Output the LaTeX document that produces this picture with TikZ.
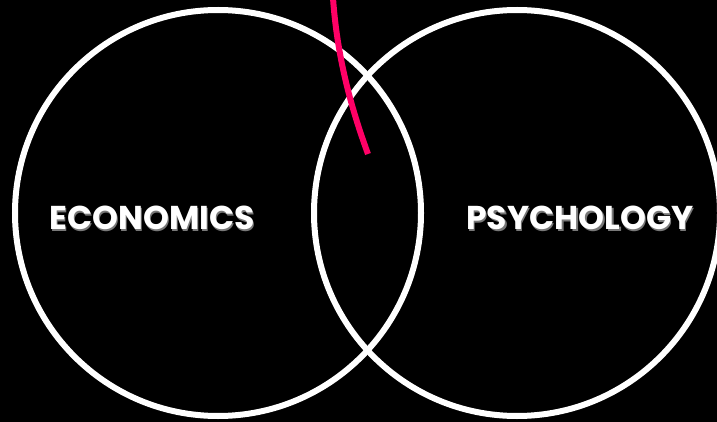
\documentclass[tikz,border=0pt]{standalone}
\usepackage{fontspec}
\setmainfont{Poppins}
\usepackage{xcolor}
\usetikzlibrary{positioning,calc}
\definecolor{bgblack}{RGB}{0,0,0}
\definecolor{ringwhite}{RGB}{255,255,255}
\definecolor{hotpink}{RGB}{255,0,102}
\definecolor{shadowgray}{RGB}{120,120,120}

\begin{document}
\begin{tikzpicture}[x=1pt, y=-1pt,
  ring/.style={circle, draw=ringwhite, line width=6pt, minimum size=406pt,
    inner sep=0pt},
  field/.style={font=\fontsize{33}{33}\selectfont\bfseries, text=ringwhite,
    inner sep=0pt},
  fieldshadow/.style={font=\fontsize{33}{33}\selectfont\bfseries,
    text=shadowgray, inner sep=0pt},
  stroke/.style={draw=hotpink, line width=6pt},
]
  \fill[bgblack] (0,0) rectangle (717,422);
  \useasboundingbox (0,0) rectangle (717,422);

  \node[ring] (econ) at (218,213) {};
  \node[ring] (psych) at (517,213) {};

  % labels with a small drop shadow
  \node[fieldshadow] (econS) at (153.5,219.5) {ECONOMICS};
  \node[field] (econT) at (152,218) {ECONOMICS};
  \node[fieldshadow] (psychS) at (581.5,219.5) {PSYCHOLOGY};
  \node[field] (psychT) at (580,218) {PSYCHOLOGY};

  \coordinate (top) at (333,-2);
  \coordinate (tip) at (368,154);
  \draw[stroke] (top) .. controls (337,55) and (350,105) .. (tip);
\end{tikzpicture}
\end{document}
